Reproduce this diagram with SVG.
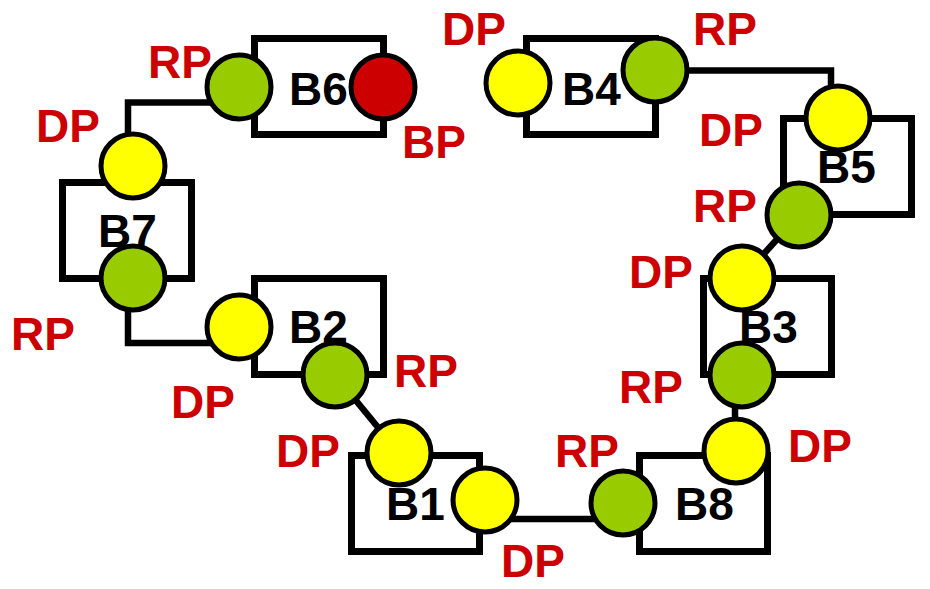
<svg xmlns="http://www.w3.org/2000/svg" width="930" height="589" viewBox="0 0 930 589">
<style>
.box{fill:none;stroke:#000;stroke-width:7}
.p{stroke:#000;stroke-width:5}
.rp{fill:#99CC00}
.dp{fill:#FFFF00}
.bp{fill:#CC0000}
.lbl{font-family:"Liberation Sans",Arial,sans-serif;font-weight:bold;font-size:46px;fill:#000}
.pl{font-family:"Liberation Sans",Arial,sans-serif;font-weight:bold;font-size:46px;fill:#CC0000}
.c{fill:none;stroke:#000;stroke-width:6.5}
</style>
<rect width="930" height="589" fill="#fff"/>
<g id="connectors">
<path class="c" d="M215,102.5 H128 V140"/>
<path class="c" d="M128,300 V343 H215"/>
<path class="c" d="M335,375 L399,453"/>
<path class="c" d="M485,519 H623"/>
<path class="c" d="M735,375 V451"/>
<path class="c" d="M742,278 L799,215"/>
<path class="c" d="M655,70.5 H831 V100"/>
</g>
<g id="B6">
<rect class="box" x="254.5" y="38.5" width="129" height="96"/>
<text class="lbl" x="289" y="105">B6</text>
<circle class="p rp" cx="239" cy="87" r="32"/>
<circle class="p bp" cx="383" cy="87" r="32"/>
<text class="pl" x="148" y="78">RP</text>
<text class="pl" x="402" y="158">BP</text>
</g>
<g id="B7">
<rect class="box" x="62.5" y="182.5" width="129" height="96"/>
<text class="lbl" x="98" y="247">B7</text>
<circle class="p dp" cx="133" cy="166" r="32"/>
<circle class="p rp" cx="133" cy="278" r="32"/>
<text class="pl" x="36" y="142">DP</text>
<text class="pl" x="11" y="350">RP</text>
</g>
<g id="B2">
<rect class="box" x="254.5" y="278.5" width="129" height="96"/>
<text class="lbl" x="289" y="343">B2</text>
<circle class="p dp" cx="239" cy="327" r="32"/>
<circle class="p rp" cx="335" cy="375" r="32"/>
<text class="pl" x="171" y="418">DP</text>
<text class="pl" x="394" y="387">RP</text>
</g>
<g id="B1">
<rect class="box" x="351.5" y="455.5" width="128" height="96"/>
<text class="lbl" x="386" y="520">B1</text>
<circle class="p dp" cx="399" cy="453" r="32"/>
<circle class="p dp" cx="485" cy="500" r="32"/>
<text class="pl" x="276" y="467">DP</text>
<text class="pl" x="501" y="577">DP</text>
</g>
<g id="B8">
<rect class="box" x="639.5" y="455.5" width="128" height="96"/>
<text class="lbl" x="675" y="520">B8</text>
<circle class="p rp" cx="623" cy="503" r="32"/>
<circle class="p dp" cx="736" cy="451" r="32"/>
<text class="pl" x="555" y="467">RP</text>
<text class="pl" x="788" y="462">DP</text>
</g>
<g id="B3">
<rect class="box" x="703.5" y="278.5" width="128" height="96"/>
<text class="lbl" x="739" y="343">B3</text>
<circle class="p dp" cx="742" cy="278" r="32"/>
<circle class="p rp" cx="742" cy="375" r="32"/>
<text class="pl" x="629" y="288">DP</text>
<text class="pl" x="619" y="403">RP</text>
</g>
<g id="B5">
<rect class="box" x="783.5" y="118.5" width="128" height="96"/>
<text class="lbl" x="817" y="183">B5</text>
<circle class="p dp" cx="838" cy="118" r="32"/>
<circle class="p rp" cx="799" cy="215" r="32"/>
<text class="pl" x="699" y="146">DP</text>
<text class="pl" x="693" y="222">RP</text>
</g>
<g id="B4">
<rect class="box" x="526.5" y="38.5" width="129" height="96"/>
<text class="lbl" x="562" y="105">B4</text>
<circle class="p dp" cx="518" cy="83" r="32"/>
<circle class="p rp" cx="655" cy="70" r="32"/>
<text class="pl" x="442" y="45">DP</text>
<text class="pl" x="693" y="45">RP</text>
</g>
</svg>
